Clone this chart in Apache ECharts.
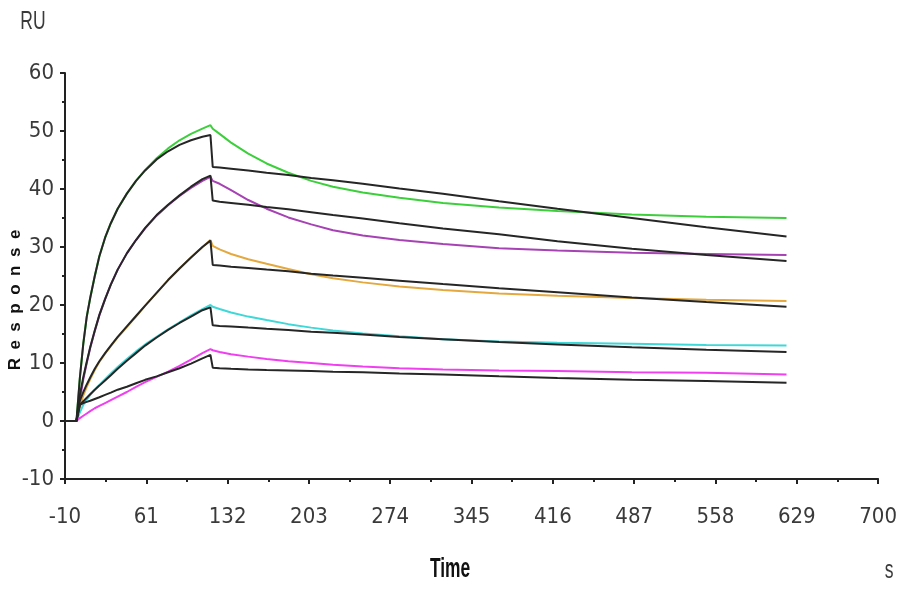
<!DOCTYPE html>
<html>
<head>
<meta charset="utf-8">
<script src="https://cdn.jsdelivr.net/npm/echarts@6/dist/echarts.min.js"></script>
<style>
html,body{margin:0;padding:0;background:#fff;}
#c{width:900px;height:594px;}
</style>
</head>
<body>
<div id="c"></div>
<script>
// ---- data ----
const xTicks = [-10, 61, 132, 203, 274, 345, 416, 487, 558, 629, 700];
const yTicks = [-10, 0, 10, 20, 30, 40, 50, 60];

const timeAssoc = [-10, 0, 3, 6, 9, 12, 16, 20, 25, 30, 36, 44, 52, 60, 70, 80, 90, 100, 110, 117];
const timeDissoc = [119, 125, 135, 150, 166, 185, 205, 224, 250, 282, 320, 369, 420, 485, 550, 620];

const greenAssoc = [0, 0, 7.5, 13.4, 18, 21.2, 25, 28.4, 31.6, 34.1, 36.6, 39.2, 41.4, 43.3, 45.3, 47, 48.4, 49.5, 50.4, 51];
const greenDissoc = [50.4, 49.5, 48, 46.1, 44.4, 42.8, 41.4, 40.4, 39.4, 38.5, 37.6, 36.8, 36.2, 35.6, 35.2, 35.0];
const greenFitAssoc = [0, 0, 7.5, 13.4, 18, 21.2, 25, 28.4, 31.6, 34.1, 36.6, 39.2, 41.4, 43.2, 45.1, 46.5, 47.6, 48.4, 49, 49.3];
const greenFitDissoc = [43.8, 43.7, 43.5, 43.2, 42.8, 42.4, 41.9, 41.5, 40.9, 40.1, 39.2, 37.9, 36.6, 35, 33.4, 31.8];

const purpleAssoc = [0, 0, 3.8, 7.2, 10, 12.6, 15.5, 18.2, 21, 23.5, 26.1, 28.9, 31.2, 33.2, 35.4, 37.2, 38.8, 40.2, 41.4, 42.1];
const purpleDissoc = [41.4, 40.9, 39.8, 38.1, 36.6, 35.1, 33.9, 32.9, 32, 31.2, 30.5, 29.8, 29.4, 29, 28.8, 28.6];
const purpleFitAssoc = [0, 0, 4.5, 7.6, 10.2, 12.7, 15.6, 18.3, 21, 23.5, 26.1, 28.9, 31.2, 33.3, 35.5, 37.3, 38.9, 40.4, 41.7, 42.3];
const purpleFitDissoc = [38, 37.8, 37.6, 37.3, 36.9, 36.5, 36, 35.5, 34.9, 34.1, 33.2, 32.2, 31, 29.7, 28.6, 27.6];

const orangeAssoc = [0, 0, 2.5, 4.4, 5.9, 7.2, 8.8, 10.2, 11.6, 12.9, 14.4, 16.2, 18, 19.9, 22.1, 24.3, 26.3, 28.2, 30, 31.2];
const orangeDissoc = [30.2, 29.6, 28.8, 27.9, 27.1, 26.2, 25.3, 24.6, 23.9, 23.2, 22.6, 22, 21.6, 21.2, 20.9, 20.7];
const orangeFitAssoc = [0, 0, 3.5, 5, 6.3, 7.5, 9, 10.3, 11.7, 13, 14.5, 16.3, 18.1, 19.9, 22.1, 24.3, 26.3, 28.2, 30, 31.1];
const orangeFitDissoc = [26.9, 26.8, 26.6, 26.4, 26.1, 25.8, 25.4, 25.1, 24.7, 24.2, 23.6, 22.9, 22.2, 21.3, 20.5, 19.7];

const cyanAssoc = [0, 0, 1.5, 2.8, 3.7, 4.5, 5.4, 6.2, 7.2, 8.2, 9.3, 10.7, 12, 13.2, 14.5, 15.8, 17, 18.2, 19.3, 20];
const cyanDissoc = [19.7, 19.3, 18.7, 18, 17.4, 16.7, 16.1, 15.6, 15.1, 14.6, 14.1, 13.7, 13.5, 13.3, 13.1, 13];
const cyanFitAssoc = [0, 0, 2.8, 3.4, 4, 4.6, 5.4, 6.1, 7, 7.9, 9, 10.4, 11.7, 13, 14.4, 15.7, 16.9, 18, 19.1, 19.6];
const cyanFitDissoc = [16.5, 16.4, 16.3, 16.1, 15.9, 15.7, 15.4, 15.2, 14.9, 14.5, 14.1, 13.6, 13.2, 12.7, 12.3, 11.9];

const magentaAssoc = [0, 0, 0.5, 0.9, 1.3, 1.7, 2.2, 2.6, 3.1, 3.6, 4.2, 5, 5.9, 6.7, 7.6, 8.5, 9.5, 10.6, 11.7, 12.4];
const magentaDissoc = [12.2, 11.9, 11.5, 11.1, 10.7, 10.3, 10, 9.7, 9.4, 9.1, 8.9, 8.7, 8.6, 8.4, 8.3, 8];
const magentaFitAssoc = [0, 0, 2.8, 3.1, 3.3, 3.5, 3.8, 4.1, 4.5, 4.9, 5.4, 5.9, 6.5, 7.1, 7.7, 8.4, 9.1, 9.9, 10.8, 11.4];
const magentaFitDissoc = [9.2, 9.1, 9.0, 8.9, 8.8, 8.7, 8.6, 8.5, 8.4, 8.2, 8.0, 7.7, 7.4, 7.1, 6.9, 6.6];

// ---- build ----
function curve(assoc, dissoc) {
  const d = [];
  timeAssoc.forEach((t, i) => d.push([t, assoc[i]]));
  timeDissoc.forEach((t, i) => d.push([t, dissoc[i]]));
  return d;
}
const NARROW = "'Liberation Sans Narrow', 'Arial Narrow', 'DejaVu Sans Condensed', 'Liberation Sans', sans-serif";
const FIT = '#262626';
function line(name, data, color, z) {
  return {
    name, type: 'line', data, showSymbol: false, symbol: 'none',
    smooth: false, z: z,
    lineStyle: { color, width: 2 }
  };
}
const series = [
  line('green', curve(greenAssoc, greenDissoc), '#3ccf3c', 2),
  line('purple', curve(purpleAssoc, purpleDissoc), '#a642b4', 2),
  line('orange', curve(orangeAssoc, orangeDissoc), '#e3a93e', 2),
  line('cyan', curve(cyanAssoc, cyanDissoc), '#3fd8d8', 2),
  line('magenta', curve(magentaAssoc, magentaDissoc), '#f03ff0', 2),
  line('fit1', curve(greenFitAssoc, greenFitDissoc), FIT, 3),
  line('fit2', curve(purpleFitAssoc, purpleFitDissoc), FIT, 3),
  line('fit3', curve(orangeFitAssoc, orangeFitDissoc), FIT, 3),
  line('fit4', curve(cyanFitAssoc, cyanFitDissoc), FIT, 3),
  line('fit5', curve(magentaFitAssoc, magentaFitDissoc), FIT, 3)
];

const labelStyle = { color: '#3a3a3a', fontSize: 22, fontWeight: 'condensed', fontFamily: NARROW };

const chart = echarts.init(document.getElementById('c'), null, { renderer: 'canvas' });
chart.setOption({
  animation: false,
  backgroundColor: '#ffffff',
  grid: { left: 65, right: 21, top: 73, bottom: 115, containLabel: false },
  xAxis: {
    type: 'value',
    min: xTicks[0], max: xTicks[xTicks.length - 1], interval: xTicks[1] - xTicks[0],
    axisLine: { show: true, onZero: false, lineStyle: { color: '#222', width: 2 } },
    axisTick: { show: true, length: 5, lineStyle: { color: '#222', width: 2 } },
    minorTick: { show: true, splitNumber: 2, length: 3, lineStyle: { color: '#222', width: 2 } },
    splitLine: { show: false },
    axisLabel: Object.assign({ margin: 27 }, labelStyle)
  },
  yAxis: {
    type: 'value',
    min: yTicks[0], max: yTicks[yTicks.length - 1], interval: yTicks[1] - yTicks[0],
    axisLine: { show: true, onZero: false, lineStyle: { color: '#222', width: 2 } },
    axisTick: { show: true, length: 5, lineStyle: { color: '#222', width: 2 } },
    minorTick: { show: true, splitNumber: 2, length: 3, lineStyle: { color: '#222', width: 2 } },
    splitLine: { show: false },
    axisLabel: Object.assign({ margin: 11 }, labelStyle)
  },
  graphic: [
    { type: 'text', x: 33, y: 22, scaleX: 0.7,
      style: { text: 'RU', fontSize: 25, fontFamily: "'Liberation Sans', Arial, sans-serif", fill: '#3a3a3a', align: 'center', verticalAlign: 'middle' } },
    { type: 'text', x: 889, y: 571, scaleX: 0.7,
      style: { text: 's', fontSize: 25, fontFamily: "'Liberation Sans', Arial, sans-serif", fill: '#3a3a3a', align: 'center', verticalAlign: 'middle' } },
    { type: 'text', x: 450, y: 569, scaleX: 0.62,
      style: { text: 'Time', fontSize: 28, fontWeight: 'bold', fontFamily: "'Liberation Sans', Arial, sans-serif", fill: '#111', align: 'center', verticalAlign: 'middle' } },
    { type: 'text', x: 15, y: 300, rotation: Math.PI / 2,
      style: { text: 'R\u2002e\u2002s\u2002p\u2002o\u2002n\u2002s\u2002e', fontSize: 17, fontWeight: 'bold',
        fontFamily: "'Liberation Sans', Arial, sans-serif", fill: '#111', align: 'center', verticalAlign: 'middle' } }
  ],
  series
});
</script>
</body>
</html>
